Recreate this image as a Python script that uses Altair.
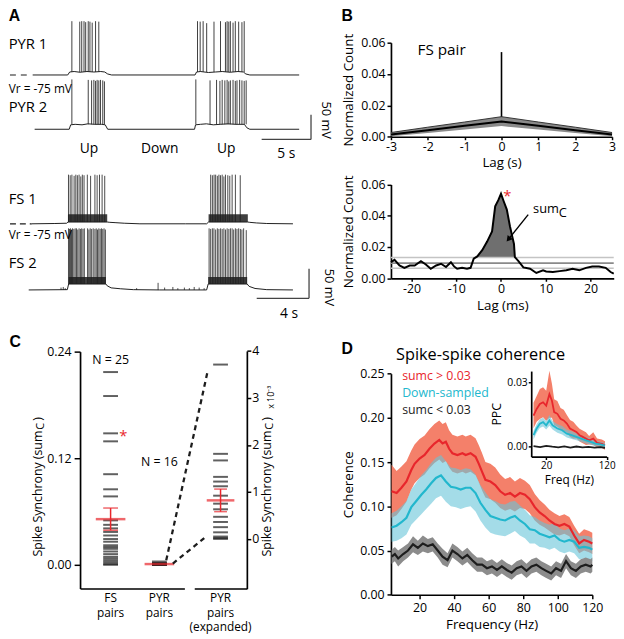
import altair as alt
import pandas as pd

# ===================== DATA =====================
# ---- A: PYR pair, subthreshold trace breakpoints (time s, Vm mV) ----
pyr1_t = [0, 3.55, 3.75, 4.2, 4.8, 5.5, 6.2, 6.9, 7.3, 7.6, 8.0, 16.45, 16.6, 17.0, 17.8, 18.5, 19.2, 20.0, 20.8, 21.35, 21.6, 22.0, 27.0]
pyr1_v = [-75, -75, -69, -68, -69.5, -68, -69, -68, -69, -73, -75, -75, -69, -68, -70, -69, -68, -69.5, -68, -69, -73, -75, -75]
pyr1_spk_t = [3.97, 4.77, 4.97, 5.2, 5.37, 5.63, 5.8, 6.03, 6.37, 6.7,
              16.7, 16.97, 17.27, 17.63, 18.37, 19.03, 19.53, 19.7, 19.87, 20.03, 20.3, 20.53, 20.87, 21.2, 21.43]
pyr1_spk_peak = [34, 33, 34, 34, 32, 34, 33, 31, 34, 33,
                 34, 33, 34, 30, 33, 34, 32, 34, 33, 34, 31, 34, 33, 32, 34]
pyr2_t = [0.2, 3.7, 3.85, 4.3, 5.0, 5.6, 6.3, 7.0, 7.35, 7.6, 16.4, 16.5, 17.0, 17.6, 18.3, 19.0, 19.8, 20.6, 21.45, 21.7, 22.0, 27.0]
pyr2_v = [-75, -75, -66, -65, -66, -64, -65, -65, -66, -75, -75, -66, -65, -64, -66, -65, -64, -65, -65, -72, -75, -75]
pyr2_spk_t = [3.97, 5.63, 5.97, 6.2, 6.37, 6.53, 6.7, 6.87, 7.1, 7.27,
              16.53, 17.97, 18.63, 18.97, 19.2, 19.47, 19.7, 19.87, 20.03, 20.3, 20.53, 20.7, 20.97, 21.2, 21.43, 21.63]
pyr2_spk_peak = [26, 25, 24, 25, 23, 25, 24, 25, 24, 22,
                 26, 24, 25, 23, 25, 24, 25, 22, 24, 25, 23, 24, 25, 24, 23, 24]

# ---- A: FS pair ----
fs1_t = [0.23, 2.0, 2.9, 3.0, 6.0, 6.2, 6.6, 7.3, 8.5, 12.0, 13.6, 13.75, 16.75, 16.9, 17.4, 18.2, 20.2]
fs1_v = [-75, -74.5, -74, -72, -72, -72.5, -73, -74, -75, -75, -75, -72, -72, -72.5, -73.5, -74.5, -75]
fs1_up = [[3.0, 6.0], [13.75, 16.75]]
fs1_band = [-72, -59]
fs1_spk_t = [3.04, 3.17, 3.30, 3.47, 3.60, 3.72, 3.85, 3.98, 4.10, 4.23, 4.48, 4.73, 5.06, 5.23, 5.41, 5.61, 5.81,
             13.91, 14.04, 14.17, 14.29, 14.42, 14.54, 14.66, 14.79, 14.92, 15.04, 15.22, 15.37, 15.55, 15.80, 16.17]
fs1_spk_peak = [8, 7, 8, 6, 8, 7, 8, 5, 8, 7, 8, 6, 8, 7, 8, 8, 6,
                8, 7, 8, 8, 6, 8, 7, 8, 5, 8, 7, 6, 8, 8, 7]
fs2_t = [0, 2.95, 3.05, 5.9, 6.0, 6.3, 7.0, 8.0, 10.0, 13.6, 13.72, 16.7, 16.85, 17.3, 18.2, 20.2]
fs2_v = [-75, -74.5, -65, -65, -68, -71.5, -73, -74.5, -75, -75, -65, -65, -69, -72.5, -74.5, -75]
fs2_up = [[3.05, 5.9], [13.72, 16.7]]
fs2_band = [-65, -53]
fs2_spk_t = [3.04, 3.12, 3.19, 3.27, 3.35, 3.45, 3.55, 3.65, 3.75, 3.85, 3.95, 4.05, 4.15, 4.25,
             4.50, 4.60, 4.70, 4.81, 4.93, 5.06, 5.16, 5.26, 5.36, 5.46, 5.56, 5.66, 5.76, 5.86,
             13.79, 13.91, 14.04, 14.16, 14.29, 14.42, 14.54, 14.67, 14.79, 14.92, 15.04, 15.17,
             15.30, 15.42, 15.55, 15.67, 15.80, 15.92, 16.05, 16.18, 16.30, 16.43, 16.63]
fs2_spk_peak = [29, 28, 29, 27, 29, 28, 29, 29, 27, 29, 28, 29, 28, 29,
                29, 27, 29, 28, 29, 28, 29, 27, 29, 28, 29, 28, 29, 27,
                29, 28, 29, 29, 27, 29, 28, 29, 28, 29, 27, 29,
                28, 29, 29, 27, 29, 28, 29, 28, 27, 29, 26]
fs2_bump_t = [2.47, 2.64, 2.79, 8.25, 9.89, 10.39, 11.02, 11.4, 11.9, 12.28, 12.65, 13.03, 13.41]
fs2_bump_h = [4, 5, 3, 3, 12, 4, 5, 3, 4, 3, 5, 4, 3]

# ---- B top: FS pair CCG (lag s) ----
ccg_s_lag = [-3, -2, -1, 0, 1, 2, 3]
ccg_s_hi = [0.0027, 0.0061, 0.0094, 0.0128, 0.0094, 0.0061, 0.0027]
ccg_s_mid = [0.0015, 0.0042, 0.0070, 0.0097, 0.0070, 0.0042, 0.0015]
ccg_s_lo = [0.0003, 0.0024, 0.0046, 0.0068, 0.0046, 0.0024, 0.0003]
ccg_s_peak = 0.054

# ---- B bottom: CCG (lag ms) ----
ccg_ms_lag = [-24.6, -23.8, -22.7, -21.6, -20.4, -19.3, -17.9, -16.8, -15.7, -14.5, -13.4, -12.3, -11.2, -10.5,
              -9.8, -8.7, -7.6, -6.8, -6.1, -5.3, -4.2, -3.1, -2.0, -1.3, -0.6, 0.0, 0.6, 1.3, 2.0, 2.5, 2.9,
              3.1, 3.9, 5.0, 6.5, 7.9, 9.4, 10.1, 11.6, 13.1, 14.6, 16.0, 17.5, 19.0, 20.4, 21.9, 23.4, 24.5, 25.2]
ccg_ms_val = [0.0103, 0.0118, 0.0082, 0.0067, 0.0082, 0.0082, 0.0109, 0.0088, 0.0061, 0.0082, 0.0093, 0.0072,
              0.0103, 0.0076, 0.0061, 0.0067, 0.0061, 0.0067, 0.0125, 0.0140, 0.0180, 0.0235, 0.0300, 0.0460,
              0.0500, 0.0541, 0.0493, 0.0440, 0.0333, 0.0270, 0.0220, 0.0135, 0.0110, 0.0070, 0.0061, 0.0034,
              0.0051, 0.0044, 0.0040, 0.0046, 0.0051, 0.0061, 0.0051, 0.0067, 0.0076, 0.0076, 0.0067, 0.0040, 0.0030]
ccg_ms_levels = [0.0133, 0.0097, 0.0064]      # jitter upper / mean / lower
sumc_window = [-5.3, 3.9]

# ---- C: spike synchrony ----
fs_sumc = [0.217, 0.190, 0.148, 0.139, 0.102, 0.085, 0.077, 0.050, 0.045, 0.041, 0.037, 0.033, 0.029,
           0.026, 0.022, 0.020, 0.018, 0.015, 0.012, 0.009, 0.007, 0.005, 0.003, 0.001, 0.000]
pyr_sumc_e3 = [3.71, 1.81, 1.67, 1.32, 1.22, 1.12, 0.92, 0.75, 0.63, 0.47, 0.36, 0.25, 0.14, 0.05, 0.02, 0.0]
fs_mean, fs_sem = 0.0514, 0.0125
pyr_mean_e3, pyr_sem_e3 = 0.82, 0.24
groups = ["FS pairs", "PYR pairs"]
group_exp = ["PYR pairs (expanded)"]
group_lines = {"FS pairs": ["FS", "pairs"], "PYR pairs": ["PYR", "pairs"],
               "PYR pairs (expanded)": ["PYR", "pairs", "(expanded)"]}

# ---- D: spike-spike coherence ----
red_f = [3.8, 6.7, 9.5, 12.4, 15.2, 17.1, 20, 22.9, 25.7, 28.6, 31.4, 33.3, 35.2, 37.1, 39, 41.9, 44.8, 46.7,
         49.5, 52.4, 54.3, 56.2, 58.1, 61, 63.8, 66.7, 69.5, 72.4, 75.2, 78.1, 81, 83.8, 86.7, 89.5, 92.4, 95.2,
         98.1, 101, 103.8, 106.7, 109.5, 112.4, 115.2, 118.1, 120]
red_v = [0.117, 0.115, 0.121, 0.128, 0.141, 0.148, 0.154, 0.158, 0.165, 0.171, 0.175, 0.171, 0.173, 0.165,
         0.160, 0.158, 0.160, 0.158, 0.160, 0.156, 0.148, 0.139, 0.130, 0.128, 0.124, 0.117, 0.113, 0.115,
         0.111, 0.115, 0.113, 0.108, 0.099, 0.093, 0.089, 0.084, 0.080, 0.078, 0.080, 0.077, 0.067, 0.058,
         0.062, 0.060, 0.058]
red_e = [0.030, 0.025, 0.024, 0.023, 0.022, 0.022, 0.022, 0.022, 0.022, 0.022, 0.022, 0.022, 0.022, 0.021,
         0.021, 0.021, 0.021, 0.021, 0.021, 0.021, 0.021, 0.021, 0.020, 0.020, 0.020, 0.019, 0.018, 0.018,
         0.017, 0.017, 0.016, 0.016, 0.015, 0.014, 0.013, 0.012, 0.012, 0.011, 0.011, 0.011, 0.011, 0.011,
         0.012, 0.012, 0.012]
cyan_f = [3.8, 6.7, 9.5, 12.4, 15.2, 18.1, 21, 23.8, 26.7, 29.5, 32.4, 35.2, 38.1, 41, 43.8, 46.7, 49.5, 52.4,
          55.2, 58.1, 61, 63.8, 66.7, 69.5, 72.4, 75.2, 78.1, 81, 83.8, 86.7, 89.5, 92.4, 95.2, 98.1, 101, 103.8,
          106.7, 109.5, 112.4, 115.2, 118.1, 120]
cyan_v = [0.076, 0.078, 0.082, 0.087, 0.099, 0.106, 0.113, 0.119, 0.126, 0.132, 0.135, 0.128, 0.122, 0.121,
          0.119, 0.121, 0.121, 0.115, 0.104, 0.096, 0.089, 0.087, 0.085, 0.084, 0.087, 0.089, 0.084, 0.080,
          0.074, 0.073, 0.069, 0.067, 0.065, 0.067, 0.062, 0.060, 0.062, 0.060, 0.053, 0.054, 0.053, 0.051]
cyan_e = [0.016, 0.017, 0.018, 0.019, 0.020, 0.021, 0.022, 0.022, 0.023, 0.023, 0.023, 0.023, 0.022, 0.022,
          0.022, 0.022, 0.021, 0.021, 0.020, 0.020, 0.019, 0.019, 0.018, 0.018, 0.018, 0.017, 0.017, 0.016,
          0.016, 0.015, 0.015, 0.014, 0.014, 0.014, 0.013, 0.013, 0.013, 0.013, 0.013, 0.013, 0.013, 0.013]
black_f = [3.8, 5.7, 7.6, 10.5, 13.3, 16.2, 19, 21.9, 24.8, 27.6, 30.5, 33.3, 36.2, 39, 41.9, 44.8, 47.6, 50.5,
           53.3, 56.2, 59, 61.9, 64.8, 67.6, 70.5, 73.3, 76.2, 79, 81.9, 84.8, 87.6, 90.5, 93.3, 96.2, 99, 101.9,
           104.8, 107.6, 110.5, 113.3, 116.2, 119, 120]
black_v = [0.043, 0.046, 0.041, 0.046, 0.050, 0.057, 0.053, 0.058, 0.055, 0.057, 0.050, 0.043, 0.039, 0.050,
           0.046, 0.041, 0.045, 0.039, 0.034, 0.034, 0.030, 0.032, 0.028, 0.032, 0.028, 0.025, 0.030, 0.032,
           0.027, 0.032, 0.034, 0.030, 0.027, 0.024, 0.030, 0.027, 0.038, 0.030, 0.027, 0.032, 0.034, 0.032, 0.034]
black_e = [0.008, 0.008, 0.009, 0.008, 0.008, 0.009, 0.008, 0.009, 0.008, 0.008, 0.008, 0.009, 0.008, 0.008,
           0.008, 0.008, 0.008, 0.008, 0.008, 0.008, 0.008, 0.008, 0.008, 0.008, 0.008, 0.008, 0.008, 0.008,
           0.008, 0.008, 0.008, 0.008, 0.008, 0.008, 0.008, 0.008, 0.008, 0.008, 0.008, 0.008, 0.008, 0.008, 0.008]
# inset: pairwise phase consistency
ppc_red_f = [-1, 4.2, 9.5, 14.8, 20, 25.3, 29.5, 33.2, 38.5, 43.7, 49, 54.2, 59.4, 64.8, 70, 75.2, 80.5, 85.8,
             91, 97.9, 104.2, 112.1, 117.3]
ppc_red_v = [0.0146, 0.0177, 0.0200, 0.0208, 0.0192, 0.0246, 0.0215, 0.0162, 0.0154, 0.0131, 0.0123, 0.0108,
             0.0085, 0.0077, 0.0069, 0.0054, 0.0046, 0.0038, 0.0030, 0.0038, 0.0018, 0.0014, 0.0006]
ppc_red_e = [0.006, 0.006, 0.007, 0.007, 0.007, 0.011, 0.008, 0.006, 0.006, 0.005, 0.005, 0.004, 0.004, 0.004,
             0.003, 0.003, 0.003, 0.003, 0.002, 0.003, 0.002, 0.002, 0.002]
ppc_cyan_f = [-1, 4.2, 9.5, 14.8, 20, 25.3, 30.5, 38.5, 46.4, 54.2, 62.1, 70, 77.9, 85.8, 93.7, 101.6, 109.5, 117.3]
ppc_cyan_v = [0.0054, 0.0085, 0.0108, 0.0115, 0.0100, 0.0123, 0.0100, 0.0085, 0.0077, 0.0061, 0.0054, 0.0046,
              0.0038, 0.0030, 0.0023, 0.0015, 0.0011, 0.0005]
ppc_cyan_e = [0.002, 0.002, 0.002, 0.002, 0.002, 0.0025, 0.002, 0.002, 0.002, 0.0018, 0.0018, 0.0016, 0.0015,
              0.0015, 0.0014, 0.0013, 0.0012, 0.0012]
ppc_black_f = [-1, 10, 20, 30, 40, 50, 60, 70, 80, 90, 100, 110, 117.3]
ppc_black_v = [0.0003, -0.0002, 0.0004, 0.0, -0.0003, 0.0002, -0.0004, 0.0001, -0.0003, -0.0001, -0.0004, -0.0002, -0.0005]

# ===================== LAYOUT / STYLE =====================
W, H = 616, 631
FONT = "Open Sans"
BOLD = "Liberation Sans"
INK = "#1d1d1d"
RED = "#E8262C"
SALMON = "#F4806A"
CYAN = "#22B7CD"
CYAN_BAND = "#67C4D8"


def px(v):
    return v - 8


def lin(domain, rng):
    return alt.Scale(type="linear", domain=list(domain), range=list(rng), nice=False, zero=False)


def vrange(base_ref, ppu, base_val, lo, hi):
    return [px(base_ref + (base_val - lo) * ppu), px(base_ref - (hi - base_val) * ppu)]


def ax(orient, pos, values=None, fmt=None, title=None, labels=True, ticks=True, lsize=12.5, tsize=13.5,
       tpad=4, lpad=2, tick=4, expr=None):
    if orient == "bottom":
        off = pos - H
    elif orient == "right":
        off = pos - W
    else:
        off = -pos
    kw = dict(orient=orient, offset=off, grid=False, domainColor="black", domainWidth=1.7,
              tickColor="black", tickWidth=1.5, tickSize=tick, ticks=ticks, labels=labels,
              labelFont=FONT, labelFontSize=lsize, labelColor="black", labelPadding=lpad,
              labelFlush=False, labelOverlap=False, titleFont=FONT, titleFontSize=tsize,
              titleColor="black", titleFontWeight="normal", titlePadding=tpad, title=title)
    if values is not None:
        kw["values"] = values
    if fmt:
        kw["format"] = fmt
    if expr:
        kw["labelExpr"] = expr
    return alt.Axis(**kw)


def xy(xs, ys, xf="x", yf="y", xt="Q", xaxis=None, yaxis=None):
    return dict(x=alt.X(f"{xf}:{xt}", scale=xs, axis=xaxis), y=alt.Y(f"{yf}:Q", scale=ys, axis=yaxis))


def txt(rows, xs, ys, xt="Q", **kw):
    df = pd.DataFrame(rows, columns=["x", "y", "t"])
    base = dict(font=FONT, color="black", baseline="middle", align="center")
    base.update(kw)
    return alt.Chart(df).mark_text(**base).encode(text="t:N", **xy(xs, ys, xt=xt))


L = []

# ---------------- Panel A ----------------
TA = lin([0, 27], [px(33), px(303)])
P1 = lin([-80, 40], vrange(71.7, 0.5, -75, -80, 40))
P2 = lin([-80, 40], vrange(126.7, 0.5, -75, -80, 40))
TF = lin([0, 20.2], [px(29), px(296.7)])
F1 = lin([-80, 40], vrange(222.5, 0.6, -75, -80, 40))
F2 = lin([-80, 40], vrange(289.5, 0.6, -75, -80, 40))


def trace(t, v, xs, ys):
    return alt.Chart(pd.DataFrame({"x": t, "y": v})).mark_line(color=INK, strokeWidth=1).encode(**xy(xs, ys))


def spikes(t, peak, base, xs, ys, w=0.9, color="#2a2a2a"):
    df = pd.DataFrame({"x": t, "y": [base] * len(t), "y2": peak})
    return alt.Chart(df).mark_rule(color=color, strokeWidth=w).encode(y2="y2:Q", **xy(xs, ys))


def band(ups, lohi, xs, ys):
    df = pd.DataFrame({"x": [u[0] for u in ups], "x2": [u[1] for u in ups],
                       "y": [lohi[0]] * len(ups), "y2": [lohi[1]] * len(ups)})
    return alt.Chart(df).mark_rect(color=INK, opacity=0.85).encode(x2="x2:Q", y2="y2:Q", **xy(xs, ys))


L += [trace(pyr1_t, pyr1_v, TA, P1), spikes(pyr1_spk_t, pyr1_spk_peak, -69, TA, P1),
      trace(pyr2_t, pyr2_v, TA, P2), spikes(pyr2_spk_t, pyr2_spk_peak, -65, TA, P2),
      band(fs1_up, fs1_band, TF, F1), trace(fs1_t, fs1_v, TF, F1),
      spikes(fs1_spk_t, fs1_spk_peak, -72, TF, F1, 0.8, INK),
      band(fs2_up, fs2_band, TF, F2), trace(fs2_t, fs2_v, TF, F2),
      spikes(fs2_spk_t, fs2_spk_peak, -65, TF, F2, 0.8, INK)]
L.append(alt.Chart(pd.DataFrame({"x": fs2_bump_t, "y": [-75] * len(fs2_bump_t),
                                 "y2": [-75 + h for h in fs2_bump_h]}))
         .mark_rule(color=INK, strokeWidth=0.8).encode(y2="y2:Q", **xy(TF, F2)))

# resting-potential dashes
L.append(alt.Chart(pd.DataFrame({"x": [-2.3], "x2": [-0.3], "y": [-75]}))
         .mark_rule(color=INK, strokeWidth=1.2, strokeDash=[6, 5]).encode(x2="x2:Q", **xy(TA, P1)))
L.append(alt.Chart(pd.DataFrame({"x": [-1.43], "x2": [0.23], "y": [-75]}))
         .mark_rule(color=INK, strokeWidth=1.2, strokeDash=[6, 4]).encode(x2="x2:Q", **xy(TF, F1)))

# scale bars (5 s / 50 mV and 4 s / 50 mV)
pb_t, pb_v = 28.2, -95.6
L.append(alt.Chart(pd.DataFrame({"x": [pb_t - 5, pb_t], "x2": [pb_t, pb_t], "y": [pb_v, pb_v], "y2": [pb_v, pb_v + 50]}))
         .mark_rule(color="#444", strokeWidth=1.3).encode(x2="x2:Q", y2="y2:Q", **xy(TA, P2)))
fb_t, fb_v = 21.43, -89.2
L.append(alt.Chart(pd.DataFrame({"x": [fb_t - 4, fb_t], "x2": [fb_t, fb_t], "y": [fb_v, fb_v], "y2": [fb_v, fb_v + 50]}))
         .mark_rule(color="#444", strokeWidth=1.3).encode(x2="x2:Q", y2="y2:Q", **xy(TF, F2)))

L.append(txt([[-2.43, 97.4, "PYR 1"], [-2.43, -29.6, "PYR 2"]], TA, P2, fontSize=15, align="left"))
L.append(txt([[-2.43, 6.4, "Vr = -75 mV"]], TA, P2, fontSize=12, align="left"))
L.append(txt([[5.7, -115, "Up"], [12.87, -115, "Down"], [19.6, -115, "Up"], [25.7, -125, "5 s"]],
             TA, P2, fontSize=14))
L.append(txt([[29.7, -56.6, "50 mV"]], TA, P2, fontSize=13, angle=90))
L.append(txt([[-1.85, 153.4, "A"]], TA, P2, fontSize=16, font=BOLD, fontWeight="bold"))

L.append(txt([[-1.53, 78.3, "FS 1"], [-1.53, -30, "FS 2"]], TF, F2, fontSize=15, align="left"))
L.append(txt([[-1.53, 17.5, "Vr = -75 mV"]], TF, F2, fontSize=12, align="left"))
L.append(txt([[19.9, -115.8, "4 s"]], TF, F2, fontSize=14))
L.append(txt([[22.94, -70.8, "50 mV"]], TF, F2, fontSize=13, angle=90))

# ---------------- Panel B (top) ----------------
BX1 = lin([-3, 3], [px(396), px(620)])
BY1 = lin([0, 0.06], [px(134.3), px(39)])
dfb = pd.DataFrame({"x": ccg_s_lag, "hi": ccg_s_hi, "mid": ccg_s_mid, "lo": ccg_s_lo})
L.append(alt.Chart(dfb).mark_area(color="#8a8a8a").encode(
    x=alt.X("x:Q", scale=BX1, axis=ax("bottom", px(134.3), [-3, -2, -1, 0, 1, 2, 3], title="Lag (s)",
                                      expr="toString(datum.value)", tick=3, lpad=1, tpad=3)),
    y=alt.Y("lo:Q", scale=BY1, axis=ax("left", px(396), [0, 0.02, 0.04, 0.06], fmt=".2f",
                                       title="Normalized Count", tpad=5)),
    y2="hi:Q"))
L.append(alt.Chart(dfb).mark_line(color="#333", strokeWidth=1).encode(**xy(BX1, BY1, yf="hi")))
L.append(alt.Chart(dfb).mark_line(color="black", strokeWidth=2).encode(**xy(BX1, BY1, yf="mid")))
L.append(alt.Chart(pd.DataFrame({"x": [0], "y": [ccg_s_hi[3]], "y2": [ccg_s_peak]}))
         .mark_rule(color="black", strokeWidth=1.6).encode(y2="y2:Q", **xy(BX1, BY1)))
L.append(txt([[-2.28, 0.0551, "FS pair"]], BX1, BY1, fontSize=15.5, align="left"))
L.append(txt([[-4.19, 0.0769, "B"]], BX1, BY1, fontSize=16, font=BOLD, fontWeight="bold"))

# ---------------- Panel B (bottom) ----------------
BX2 = lin([-24.6, 25.2], [px(396), px(621.7)])
BY2 = lin([0, 0.06], [px(277.7), px(182.7)])
lvl_top = ccg_ms_levels[0]
fill_rows = [(l, max(v, lvl_top)) for l, v in zip(ccg_ms_lag, ccg_ms_val) if sumc_window[0] <= l <= sumc_window[1]]
dff = pd.DataFrame({"x": [r[0] for r in fill_rows], "y": [r[1] for r in fill_rows],
                    "y2": [lvl_top] * len(fill_rows)})
L.append(alt.Chart(dff).mark_area(color="#6f6f6f").encode(
    x=alt.X("x:Q", scale=BX2, axis=ax("bottom", px(277.7), [-20, -10, 0, 10, 20], title="Lag (ms)",
                                      expr="toString(datum.value)", tick=3, lpad=1, tpad=4)),
    y=alt.Y("y:Q", scale=BY2, axis=ax("left", px(396), [0, 0.02, 0.04, 0.06], fmt=".2f",
                                      title="Normalized Count", tpad=5)),
    y2="y2:Q"))
dfl = pd.DataFrame({"x": [-24.6] * 3, "x2": [25.2] * 3, "y": ccg_ms_levels,
                    "c": ["#c4c4c4", "#8a8a8a", "#c4c4c4"]})
L.append(alt.Chart(dfl).mark_rule(strokeWidth=1.6).encode(
    x2="x2:Q", color=alt.Color("c:N", scale=None), **xy(BX2, BY2)))
L.append(alt.Chart(pd.DataFrame({"x": ccg_ms_lag, "y": ccg_ms_val})).mark_line(color="black", strokeWidth=2)
         .encode(**xy(BX2, BY2)))
L.append(txt([[1.4, 0.0525, "*"]], BX2, BY2, fontSize=15, color=RED))
L.append(txt([[7.18, 0.0443, "sum"]], BX2, BY2, fontSize=13, align="left"))
L.append(txt([[7.18, 0.0443, "C"]], BX2, BY2, fontSize=13, align="left", dx=26, dy=4))
arrow = pd.DataFrame({"x": [6.08], "y": [0.0407], "x2": [1.66], "y2": [0.0249]})
L.append(alt.Chart(arrow).mark_rule(color="black", strokeWidth=1.4).encode(x2="x2:Q", y2="y2:Q", **xy(BX2, BY2)))
L.append(alt.Chart(arrow).mark_point(shape="triangle-up", filled=True, color="black", size=45, angle=219,
                                     opacity=1).encode(**xy(BX2, BY2, xf="x2", yf="y2")))

# ---------------- Panel C ----------------
CYL = lin([-0.0267, 0.24], [px(592), px(352)])
CYR = lin([-1.06, 4], [px(592.2), px(351.3)])
CXL = alt.Scale(type="point", domain=groups, range=[px(81), px(186.7)], padding=0.569, align=0.55)
CXR = alt.Scale(type="point", domain=group_exp, range=[px(196.7), px(250)], padding=0.5)
CF = lin([0, 1], [px(82), px(250)])
CJ = lin([0, 1], [px(161), px(223)])

dfc = pd.DataFrame({"g": ["FS pairs"] * len(fs_sumc) + ["PYR pairs"] * len(pyr_sumc_e3),
                    "y": fs_sumc + [v / 1000 for v in pyr_sumc_e3]})
L.append(alt.Chart(dfc).mark_tick(color=INK, size=15, thickness=2, orient="horizontal").encode(
    x=alt.X("g:N", scale=CXL, axis=ax("bottom", px(592), labels=False, ticks=False)),
    y=alt.Y("y:Q", scale=CYL, axis=ax("left", px(81), [0, 0.12, 0.24], fmt=".2f", tick=6, lpad=3))))
dfe = pd.DataFrame({"g": group_exp * len(pyr_sumc_e3), "y": pyr_sumc_e3})
L.append(alt.Chart(dfe).mark_tick(color=INK, size=15, thickness=2, orient="horizontal").encode(
    x=alt.X("g:N", scale=CXR, axis=ax("bottom", px(592), labels=False, ticks=False)),
    y=alt.Y("y:Q", scale=CYR, axis=ax("right", px(250), [0, 1, 2, 3, 4], fmt="d", tick=4, lpad=1))))
# means and SEM
dfm = pd.DataFrame({"g": groups, "y": [fs_mean, pyr_mean_e3 / 1000],
                    "lo": [fs_mean - fs_sem, pyr_mean_e3 / 1000], "hi": [fs_mean + fs_sem, pyr_mean_e3 / 1000]})
L.append(alt.Chart(dfm).mark_rule(color=RED, strokeWidth=1.5).encode(y2="hi:Q", **xy(CXL, CYL, xf="g", yf="lo", xt="N")))
L.append(alt.Chart(dfm).mark_tick(color=RED, size=30, thickness=2.5, orient="horizontal").encode(**xy(CXL, CYL, xf="g", xt="N")))
L.append(alt.Chart(dfm.iloc[:1]).mark_tick(color=RED, size=15, thickness=1.5, orient="horizontal").encode(**xy(CXL, CYL, xf="g", yf="lo", xt="N")))
L.append(alt.Chart(dfm.iloc[:1]).mark_tick(color=RED, size=15, thickness=1.5, orient="horizontal").encode(**xy(CXL, CYL, xf="g", yf="hi", xt="N")))
dfme = pd.DataFrame({"g": group_exp, "y": [pyr_mean_e3], "lo": [pyr_mean_e3 - pyr_sem_e3], "hi": [pyr_mean_e3 + pyr_sem_e3]})
L.append(alt.Chart(dfme).mark_rule(color=RED, strokeWidth=1.5).encode(y2="hi:Q", **xy(CXR, CYR, xf="g", yf="lo", xt="N")))
L.append(alt.Chart(dfme).mark_tick(color=RED, size=28, thickness=2.5, orient="horizontal").encode(**xy(CXR, CYR, xf="g", xt="N")))
L.append(alt.Chart(dfme).mark_tick(color=RED, size=13, thickness=1.5, orient="horizontal").encode(**xy(CXR, CYR, xf="g", yf="lo", xt="N")))
L.append(alt.Chart(dfme).mark_tick(color=RED, size=13, thickness=1.5, orient="horizontal").encode(**xy(CXR, CYR, xf="g", yf="hi", xt="N")))
# expansion connectors
dfj = pd.DataFrame({"x": [0.118, 0.226], "y": [-0.456, -0.525], "x2": [0.79, 0.77], "y2": [3.54, 0.05]})
L.append(alt.Chart(dfj).mark_rule(color=INK, strokeWidth=2.3, strokeDash=[5, 4]).encode(
    x2="x2:Q", y2="y2:Q", **xy(CJ, CYR)))
# texts
L.append(txt([["FS pairs", 0.231, "N = 25"], ["PYR pairs", 0.1156, "N = 16"]], CXL, CYL, xt="N", fontSize=12.5))
L.append(txt([["FS pairs", 0.1445, "*"]], CXL, CYL, xt="N", fontSize=15, color=RED, dx=13))
# category labels, one text per line (line spacing 15 px)
for g in groups:
    for i, ln in enumerate(group_lines[g]):
        L.append(txt([[g, -0.0372, ln]], CXL, CYL, xt="N", fontSize=12, dy=i * 15))
for i, ln in enumerate(group_lines[group_exp[0]]):
    L.append(txt([[group_exp[0], -1.256, ln]], CXR, CYR, xt="N", fontSize=12, dy=i * 15))
J = 0.151
for fx in [-0.262, 1.119]:
    L.append(txt([[fx, J, "Spike Synchrony (sum"]], CF, CYL, fontSize=12.5, angle=270, align="right"))
    L.append(txt([[fx, J, "C"]], CF, CYL, fontSize=11, angle=270, align="left", dx=1, dy=3))
    L.append(txt([[fx, J, ")"]], CF, CYL, fontSize=12.5, angle=270, align="left", dx=10))
L.append(txt([[1.143, 0.1756, "x 10\u207b\u00b3"]], CF, CYL, fontSize=9, angle=270, align="left"))
L.append(txt([[-0.397, 0.2506, "C"]], CF, CYL, fontSize=16, font=BOLD, fontWeight="bold"))

# ---------------- Panel D ----------------
DX = lin([3.43, 120], [px(396), px(600)])
DY = lin([0, 0.25], [px(598.3), px(374.3)])
IX = lin([-4.8, 120], [px(538.1), px(614.5)])
IY = lin([-0.0046, 0.0354], [px(458.3), px(371.7)])


def bandD(f, v, e, color, xs, ys, opacity=1.0, xaxis=None, yaxis=None):
    df = pd.DataFrame({"x": f, "lo": [a - b for a, b in zip(v, e)], "hi": [a + b for a, b in zip(v, e)]})
    return alt.Chart(df).mark_area(color=color, opacity=opacity).encode(
        x=alt.X("x:Q", scale=xs, axis=xaxis), y=alt.Y("lo:Q", scale=ys, axis=yaxis), y2="hi:Q")


def lineD(f, v, color, xs, ys, w=2.2):
    return alt.Chart(pd.DataFrame({"x": f, "y": v})).mark_line(color=color, strokeWidth=w).encode(**xy(xs, ys))


L.append(bandD(red_f, red_v, red_e, SALMON, DX, DY,
               xaxis=ax("bottom", px(598.3), [20, 40, 60, 80, 100, 120], title="Frequency (Hz)", tpad=4, lpad=3),
               yaxis=ax("left", px(396), [0, 0.05, 0.1, 0.15, 0.2, 0.25], fmt=".2f", title="Coherence",
                        tpad=4, lpad=3)))
L.append(bandD(cyan_f, cyan_v, cyan_e, CYAN_BAND, DX, DY, opacity=0.6))
L.append(bandD(black_f, black_v, black_e, "#8c8c8c", DX, DY))
L.append(lineD(red_f, red_v, RED, DX, DY))
L.append(lineD(cyan_f, cyan_v, CYAN, DX, DY))
L.append(lineD(black_f, black_v, INK, DX, DY))
L.append(alt.Chart(pd.DataFrame({"x": [9.9, 9.9, 9.9], "y": [0.2475, 0.2285, 0.2085],
                                 "t": ["sumc > 0.03", "Down-sampled", "sumc < 0.03"],
                                 "c": [RED, CYAN, INK]}))
         .mark_text(font=FONT, fontSize=12.5, align="left", baseline="middle")
         .encode(text="t:N", color=alt.Color("c:N", scale=None), **xy(DX, DY)))
L.append(txt([[55.3, 0.2715, "Spike-spike coherence"]], DX, DY, fontSize=16.5))
L.append(txt([[-21.9, 0.2782, "D"]], DX, DY, fontSize=16, font=BOLD, fontWeight="bold"))

# inset
L.append(bandD(ppc_red_f, ppc_red_v, ppc_red_e, SALMON, IX, IY,
               xaxis=ax("bottom", px(458.3), [20, 120], title="Freq (Hz)", lsize=10, tsize=12, tick=3,
                        lpad=1, tpad=4),
               yaxis=ax("left", px(538.1), [0, 0.03], fmt=".2f", title="PPC", lsize=10.5, tsize=12.5, tick=3,
                        lpad=1, tpad=3)))
L.append(bandD(ppc_cyan_f, ppc_cyan_v, ppc_cyan_e, CYAN_BAND, IX, IY, opacity=0.6))
L.append(lineD(ppc_red_f, ppc_red_v, RED, IX, IY, 1.8))
L.append(lineD(ppc_cyan_f, ppc_cyan_v, CYAN, IX, IY, 1.8))
L.append(lineD(ppc_black_f, ppc_black_v, INK, IX, IY, 1.8))

chart = (alt.layer(*L)
         .resolve_scale(x="independent", y="independent")
         .properties(width=W, height=H, padding=0, autosize=alt.AutoSizeParams(type="none"))
         .configure_view(stroke=None))

chart.save("out.html", embed_options={"renderer": "svg", "actions": False})
